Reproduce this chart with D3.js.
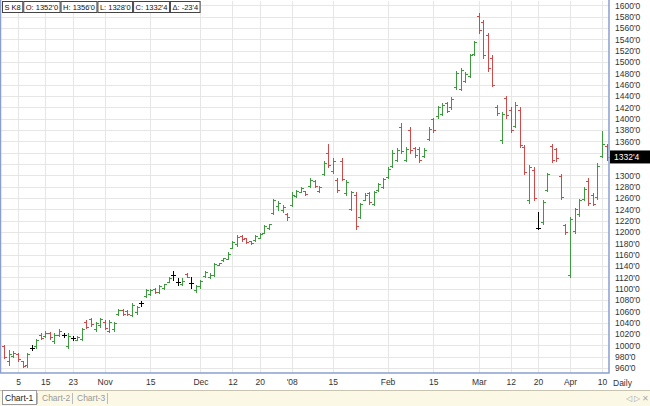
<!DOCTYPE html>
<html>
<head>
<meta charset="utf-8">
<script src="https://cdn.jsdelivr.net/npm/d3@7"></script>
<style>
  body { margin: 0; background: #fff; }
  text { font-family: "Liberation Sans", Arial, sans-serif; }
</style>
</head>
<body>
<div id="chart"></div>
<script>
// OHLC values, one per trading day (Oct 2 2007 .. Apr 11 2008)
const opens = [998,972,981,984,972,966,995,998,1019,1016,1021,1008,1019,1018,998,1013,1010,1012,1042,1046,
  1028,1036,1042,1025,1028,1055,1063,1061,1054,1058,1074,1087,1090,1100,1094,1101,1112,1124,1112,1108,
  1126,1110,1097,1104,1122,1120,1125,1141,1150,1153,1172,1178,1193,1189,1184,1186,1190,1199,1207,1233,
  1246,1238,1232,1248,1264,1271,1272,1281,1290,1272,1302,1340,1308,1292,1325,1268,1240,1266,1226,1257,
  1268,1249,1274,1279,1298,1316,1328,1385,1328,1380,1348,1347,1334,1364,1400,1404,1408,1427,1420,1456,
  1453,1466,1476,1514,1582,1570,1548,1508,1420,1362,1436,1416,1388,1416,1350,1256,1310,1207,1218,1275,
  1352,1346,1299,1213,1124,1202,1232,1258,1290,1265,1262,1334,1352];
const highs = [1000,991,990,986,973,986,1000,1012,1021,1025,1023,1021,1028,1021,1021,1017,1017,1030,1044,1048,
  1041,1049,1044,1044,1042,1065,1065,1063,1074,1070,1078,1099,1100,1102,1106,1109,1120,1132,1118,1118,
  1127,1120,1106,1116,1132,1127,1146,1146,1155,1164,1185,1194,1194,1190,1185,1194,1198,1212,1215,1259,
  1255,1248,1234,1270,1275,1279,1273,1295,1291,1281,1326,1356,1330,1296,1330,1291,1273,1270,1252,1268,
  1270,1273,1286,1295,1314,1344,1348,1392,1350,1386,1350,1350,1348,1385,1402,1423,1427,1429,1438,1485,
  1490,1482,1515,1538,1586,1574,1552,1512,1424,1411,1440,1420,1429,1420,1353,1318,1314,1235,1256,1305,
  1356,1349,1303,1215,1227,1243,1259,1279,1295,1268,1321,1379,1356];
const lows = [977,965,979,973,961,961,991,996,1011,1014,1012,1005,1017,1014,995,1009,1009,1010,1030,1035,
  1026,1033,1028,1023,1025,1053,1053,1053,1051,1056,1070,1085,1088,1093,1092,1100,1111,1115,1106,1106,
  1120,1102,1095,1102,1120,1118,1123,1141,1149,1152,1171,1176,1185,1180,1178,1185,1189,1198,1206,1231,
  1238,1235,1222,1246,1262,1270,1265,1279,1279,1270,1300,1314,1305,1270,1291,1265,1238,1206,1224,1256,
  1250,1247,1273,1277,1296,1314,1326,1339,1326,1340,1332,1323,1332,1362,1376,1402,1406,1411,1418,1453,
  1450,1464,1473,1512,1552,1508,1485,1457,1406,1358,1402,1376,1385,1350,1303,1252,1256,1206,1215,1273,
  1323,1326,1258,1197,1120,1199,1229,1256,1247,1247,1259,1332,1328];
const closes = [980,985,987,976,964,984,995,1010,1013,1022,1014,1018,1026,1018,1017,1013,1015,1028,1033,1038,
  1039,1047,1030,1042,1040,1063,1056,1055,1071,1068,1074,1097,1098,1095,1104,1108,1118,1124,1112,1114,
  1121,1110,1104,1114,1130,1125,1143,1145,1154,1162,1183,1191,1187,1182,1180,1193,1196,1210,1214,1256,
  1252,1244,1226,1266,1272,1277,1267,1292,1282,1279,1322,1318,1326,1274,1294,1288,1270,1210,1250,1266,
  1253,1271,1284,1293,1312,1340,1345,1343,1347,1344,1336,1327,1345,1382,1380,1420,1424,1414,1435,1480,
  1486,1479,1512,1535,1556,1512,1490,1460,1410,1408,1406,1380,1425,1354,1306,1314,1260,1207,1253,1302,
  1327,1330,1262,1200,1223,1240,1256,1276,1251,1250,1317,1356,1332.5];

// x-axis labels: bar index and text
const tickIdx = [3,9,15,22,32,43,50,56,63,72,84,94,104,111,117,124,131];
const tickText = ["5","15","23","Nov","15","Dec","12","20","'08","15","Feb","15","Mar","12","20","Apr","10"];

// header box texts
const headerText = ["S K8","O: 1352'0","H: 1356'0","L: 1328'0","C: 1332'4","\u0394: -23'4"];
const tabNames = ["Chart-1","Chart-2","Chart-3"];

const W = 650, H = 406;
const plot = { left: 1, right: 609, top: 1, bottom: 373 };

const svg = d3.select("#chart").append("svg")
  .attr("width", W).attr("height", H);

const x = d3.scaleLinear().domain([0, opens.length - 1]).range([4.3, 606.5]);
const y = d3.scaleLinear().domain([960, 1600]).range([368, 5.4]);

const fmt = v => {
  const whole = Math.floor(v), frac = Math.round((v - whole) * 8);
  return whole + "'" + frac;
};

// plot background
svg.append("rect").attr("x", plot.left).attr("y", plot.top)
  .attr("width", plot.right - plot.left).attr("height", plot.bottom - plot.top)
  .attr("fill", "#fff");

// grid
const yTicks = d3.range(960, 1601, 20);
svg.append("g").selectAll("line").data(yTicks).enter().append("line")
  .attr("x1", plot.left).attr("x2", plot.right)
  .attr("y1", d => Math.round(y(d)) + 0.5).attr("y2", d => Math.round(y(d)) + 0.5)
  .attr("stroke", "#e6e6e6");
svg.append("g").selectAll("line").data(tickIdx).enter().append("line")
  .attr("x1", d => Math.round(x(d)) + 0.5).attr("x2", d => Math.round(x(d)) + 0.5)
  .attr("y1", plot.top).attr("y2", plot.bottom)
  .attr("stroke", "#e6e6e6");

// bars
const bars = d3.range(opens.length).map(i => ({
  i: i, o: opens[i], h: highs[i], l: lows[i], c: closes[i]
}));
const colorOf = d => d.c > d.o ? "#3e9a3e" : (d.c < d.o ? "#d04a4a" : "#000");

const g = svg.append("g").attr("shape-rendering", "crispEdges");
const bar = g.selectAll("g").data(bars).enter().append("g")
  .attr("stroke", colorOf);
bar.append("line")
  .attr("x1", d => Math.round(x(d.i)) + 0.5).attr("x2", d => Math.round(x(d.i)) + 0.5)
  .attr("y1", d => Math.round(y(d.h))).attr("y2", d => Math.round(y(d.l)) + 1);
bar.append("line")
  .attr("x1", d => Math.round(x(d.i)) - 2).attr("x2", d => Math.round(x(d.i)))
  .attr("y1", d => Math.round(y(d.o)) + 0.5).attr("y2", d => Math.round(y(d.o)) + 0.5);
bar.append("line")
  .attr("x1", d => Math.round(x(d.i)) + 1).attr("x2", d => Math.round(x(d.i)) + 3)
  .attr("y1", d => Math.round(y(d.c)) + 0.5).attr("y2", d => Math.round(y(d.c)) + 0.5);

// frame
svg.append("rect").attr("x", 0.5).attr("y", -1)
  .attr("width", plot.right - 0.5).attr("height", plot.bottom + 1)
  .attr("fill", "none").attr("stroke", "#8a9fd0").attr("stroke-width", 1.5);

// right axis (the label under the last-price box is hidden, as in the original)
const lastC = closes[closes.length - 1];
const yAxis = d3.axisRight(y).tickValues(yTicks).tickSize(0).tickPadding(6)
  .tickFormat(d => Math.abs(y(d) - y(lastC)) < 9 ? "" : d + "'0");
const ya = svg.append("g").attr("transform", `translate(${plot.right},0)`).call(yAxis);
ya.select(".domain").remove();
ya.selectAll("text").attr("font-size", "8.5px").attr("fill", "#333")
  .attr("font-family", "Liberation Sans, Arial, sans-serif");

// last price marker
svg.append("rect").attr("x", plot.right + 1).attr("y", y(lastC) - 6.5)
  .attr("width", W - plot.right - 1).attr("height", 13).attr("fill", "#000");
svg.append("text").attr("x", plot.right + 5).attr("y", y(lastC) + 3)
  .attr("font-size", "8.5px").attr("fill", "#fff").text(fmt(lastC));

// bottom axis
const xAxis = d3.axisBottom(x).tickValues(tickIdx).tickSize(0).tickPadding(5)
  .tickFormat((d, k) => tickText[k]);
const xa = svg.append("g").attr("transform", `translate(0,${plot.bottom + 1})`).call(xAxis);
xa.select(".domain").remove();
xa.selectAll("text").attr("font-size", "8.5px").attr("fill", "#333")
  .attr("font-family", "Liberation Sans, Arial, sans-serif");
svg.append("text").attr("x", 613).attr("y", 386).attr("font-size", "8.5px")
  .attr("fill", "#333").text("Daily");

// tab strip
svg.append("rect").attr("x", 0).attr("y", 390).attr("width", W).attr("height", 16)
  .attr("fill", "#fbf8e6");
svg.append("line").attr("x1", 0).attr("x2", W).attr("y1", 390.5).attr("y2", 390.5)
  .attr("stroke", "#c8c4b0");
let tx = 2;
tabNames.forEach((t, k) => {
  const wdt = k === 0 ? 34 : 32;
  if (k === 0) {
    svg.append("rect").attr("x", tx + 0.5).attr("y", 390.5).attr("width", wdt).attr("height", 14)
      .attr("fill", "#fff").attr("stroke", "#9a9a9a");
  }
  svg.append("text").attr("x", tx + 3).attr("y", 401).attr("font-size", "8.5px")
    .attr("fill", k === 0 ? "#222" : "#999").text(t);
  svg.append("line").attr("x1", tx + wdt + 1.5).attr("x2", tx + wdt + 1.5)
    .attr("y1", 393).attr("y2", 404).attr("stroke", "#bbb");
  tx += wdt + 3;
});
svg.append("text").attr("x", 626).attr("y", 401).attr("font-size", "8px")
  .attr("fill", "#aaa").text("\u25C1 \u25B7 \u2715");

// header boxes
let hx = 2.5;
headerText.forEach(t => {
  const box = svg.append("g");
  const r = box.append("rect").attr("x", hx).attr("y", 1.5).attr("height", 11)
    .attr("fill", "#fff").attr("stroke", "#444");
  const tt = box.append("text").attr("x", hx + 2).attr("y", 10).attr("font-size", "7.5px")
    .attr("fill", "#111").text(t);
  const wdt = tt.node().getComputedTextLength() + 4;
  r.attr("width", wdt);
  hx += wdt + 1;
});
</script>
</body>
</html>
